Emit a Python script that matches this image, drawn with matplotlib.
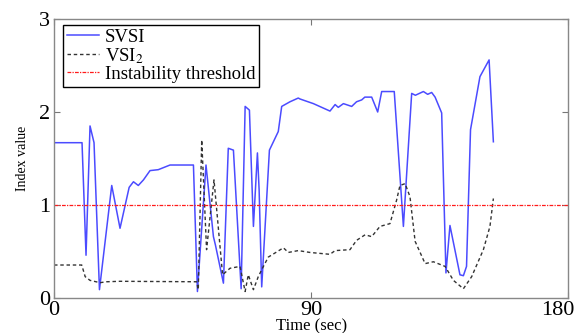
import numpy as np
import matplotlib
matplotlib.use('Agg')
import matplotlib.pyplot as plt
from matplotlib.transforms import ScaledTranslation

# SVSI index over time (sec, value)
svsi_t = [0, 9.8, 11.2, 12.6, 14.0, 15.9, 20.2, 23.1, 26.3, 27.8, 29.5, 31.3, 33.6, 36.5, 40.6,
          48.8, 50.2, 53.2, 55.8, 56.5, 59.3, 61.0, 62.8, 65.5, 66.9, 68.4, 69.8, 71.2, 71.8,
          72.7, 75.4, 78.5, 79.7, 82.6, 85.5, 86.1, 90.8, 96.6, 98.4, 99.5, 101.3, 104.2, 105.9,
          107.7, 108.8, 111.2, 113.3, 114.7, 119.1, 122.3, 125.2, 126.5, 129.3, 130.8, 132.2,
          133.4, 135.7, 137.2, 138.6, 142.1, 143.3, 144.4, 145.8, 149.1, 152.3, 153.8]
svsi_v = [1.67, 1.67, 0.46, 1.85, 1.67, 0.09, 1.21, 0.75, 1.19, 1.25, 1.21, 1.27, 1.37, 1.38, 1.43,
          1.43, 0.07, 1.43, 0.66, 0.57, 0.16, 1.61, 1.59, 0.10, 2.06, 2.02, 0.77, 1.56, 1.16,
          0.12, 1.59, 1.79, 2.06, 2.11, 2.15, 2.14, 2.09, 2.01, 2.08, 2.05, 2.09, 2.06, 2.11,
          2.13, 2.16, 2.16, 2.00, 2.22, 2.22, 0.77, 2.20, 2.18, 2.22, 2.19, 2.21,
          2.16, 1.99, 0.27, 0.78, 0.25, 0.24, 0.34, 1.81, 2.38, 2.56, 1.68]

# VSI_2 index over time
vsi2_t = [0, 9.7, 10.9, 12.6, 16.1, 18.4, 23.1, 49.9, 50.5, 51.7, 53.4, 56.0, 59.0, 61.6, 65.1,
          66.9, 68.0, 69.8, 71.5, 73.3, 75.0, 80.3, 82.0, 85.5, 89.6, 96.6, 98.4, 103.6, 105.9,
          108.9, 111.2, 114.1, 117.6, 119.9, 121.1, 122.9, 124.6, 126.4, 129.9, 132.8, 136.9,
          139.8, 143.3, 146.2, 150.3, 152.6, 153.8]
vsi2_v = [0.355, 0.355, 0.23, 0.19, 0.165, 0.175, 0.18, 0.175, 0.09, 1.70, 0.52, 1.27, 0.25, 0.32, 0.34,
          0.07, 0.25, 0.09, 0.23, 0.34, 0.44, 0.54, 0.49, 0.51, 0.49, 0.47, 0.51, 0.52, 0.62,
          0.68, 0.66, 0.77, 0.80, 1.05, 1.21, 1.23, 1.09, 0.61, 0.37, 0.39, 0.34,
          0.19, 0.10, 0.23, 0.52, 0.77, 1.07]

threshold = 1.0
x_ticks = [0, 90, 180]
y_ticks = [0, 1, 2, 3]

plt.rcParams['font.family'] = ['Liberation Serif', 'DejaVu Serif']
plt.rcParams['mathtext.fontset'] = 'stix'

fig = plt.figure(figsize=(5.81, 3.33), dpi=100)
ax = fig.add_axes([0.093, 0.105, 0.885, 0.838])

ax.plot(svsi_t, svsi_v, color='#4b4bff', lw=1.1, label='SVSI')
ax.plot(vsi2_t, vsi2_v, color='#333333', lw=1.0, ls=(0, (2.5, 2)), label='VSI$_2$')
ax.axhline(threshold, color='#ff1a1a', lw=0.9, ls=(0, (3, 1, 1, 1)), label='Instability threshold')

ax.set_xlim(0, 180)
ax.set_ylim(0, 3)
ax.set_xticks(x_ticks)
ax.set_yticks(y_ticks)
ax.tick_params(direction='in', top=True, right=True, labelsize=16, length=4, color='#777777')
ax.tick_params(axis='x', pad=2)
ax.tick_params(axis='y', pad=3)
for s in ax.spines.values():
    s.set_color('#888888')
    s.set_linewidth(1.0)

# keep the last x tick label inside the figure
last = ax.get_xticklabels()[-1]
last.set_transform(last.get_transform() + ScaledTranslation(-10 / 100, 0, fig.dpi_scale_trans))

ax.set_xlabel('Time (sec)', fontsize=12, labelpad=-1)
ax.set_ylabel('Index value', fontsize=10, labelpad=7)

leg = ax.legend(loc='upper left', bbox_to_anchor=(0.0175, 0.978), borderaxespad=0,
                fontsize=13.5, handlelength=1.7, handletextpad=0.35, labelspacing=0.0,
                borderpad=0.2, fancybox=False, framealpha=1)
leg.get_frame().set_edgecolor('black')
leg.get_frame().set_linewidth(1.0)

fig.savefig('out.png', dpi=100)
